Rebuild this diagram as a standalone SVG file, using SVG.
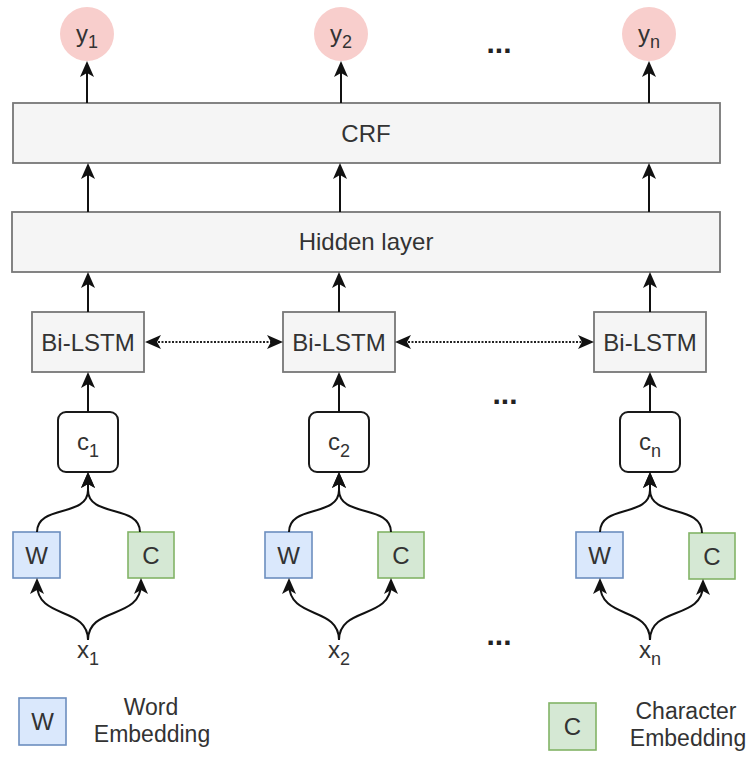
<svg xmlns="http://www.w3.org/2000/svg" width="750" height="757" viewBox="0 0 750 757">
  <style>
    text { font-family: "Liberation Sans", Arial, sans-serif; font-size: 24px; fill: #333; text-anchor: middle; }
    .sub { font-size: 18px; }
    .legend-text { font-size: 23px; }
    .layer { fill: #f5f5f5; stroke: #777; stroke-width: 1.8; }
    .cell { fill: #ffffff; stroke: #1a1a1a; stroke-width: 2; }
    .word { fill: #dae8fc; stroke: #6c8ebf; stroke-width: 1.6; }
    .char { fill: #d5e8d4; stroke: #82b366; stroke-width: 1.6; }
    .out { fill: #f8cecc; }
    .edge { fill: none; stroke: #111; stroke-width: 2; marker-end: url(#arrow); }
    .dotted { fill: none; stroke: #222; stroke-width: 2; stroke-dasharray: 2 1.5; marker-start: url(#arrow); marker-end: url(#arrow); }
    .dots { font-size: 30px; font-weight: bold; fill: #222; }
  </style>
  <defs>
    <marker id="arrow" markerUnits="userSpaceOnUse" markerWidth="16" markerHeight="14" viewBox="0 0 16 14" refX="10" refY="7" orient="auto-start-reverse">
      <path d="M0,0 L16,7 L0,14 L4,7 z" fill="#111"/>
    </marker>
  </defs>

  <!-- output labels -->
  <g id="y1"><circle class="out" cx="87" cy="34" r="27"/><text x="87" y="42">y<tspan class="sub" dy="6">1</tspan></text></g>
  <g id="y2"><circle class="out" cx="341" cy="34" r="27"/><text x="341" y="42">y<tspan class="sub" dy="6">2</tspan></text></g>
  <g id="yn"><circle class="out" cx="649" cy="34" r="27"/><text x="649" y="42">y<tspan class="sub" dy="6">n</tspan></text></g>
  <text class="dots" x="499" y="53">...</text>

  <!-- CRF and hidden layer -->
  <g id="crf"><rect class="layer" x="13" y="103" width="707" height="60"/><text x="366" y="142">CRF</text></g>
  <g id="hidden"><rect class="layer" x="12" y="212" width="708" height="60"/><text x="366" y="250">Hidden layer</text></g>

  <!-- Bi-LSTM cells -->
  <g id="lstm1"><rect class="layer" x="32" y="312" width="112" height="60"/><text x="88" y="351">Bi-LSTM</text></g>
  <g id="lstm2"><rect class="layer" x="283" y="312" width="112" height="60"/><text x="339" y="351">Bi-LSTM</text></g>
  <g id="lstmn"><rect class="layer" x="594" y="312" width="112" height="60"/><text x="650" y="351">Bi-LSTM</text></g>
  <text class="dots" x="505" y="404">...</text>

  <!-- concatenated embeddings -->
  <g id="c1"><rect class="cell" x="58" y="412" width="60" height="60" rx="8"/><text x="88" y="450">c<tspan class="sub" dy="7">1</tspan></text></g>
  <g id="c2"><rect class="cell" x="309" y="412" width="60" height="60" rx="8"/><text x="339" y="450">c<tspan class="sub" dy="7">2</tspan></text></g>
  <g id="cn"><rect class="cell" x="620" y="412" width="60" height="60" rx="8"/><text x="650" y="450">c<tspan class="sub" dy="7">n</tspan></text></g>

  <!-- word / character embeddings -->
  <g id="w1"><rect class="word" x="13" y="532" width="47" height="46"/><text x="36.5" y="564">W</text></g>
  <g id="ch1"><rect class="char" x="128" y="532" width="46" height="46"/><text x="151" y="564">C</text></g>
  <g id="w2"><rect class="word" x="265" y="532" width="47" height="46"/><text x="288.5" y="564">W</text></g>
  <g id="ch2"><rect class="char" x="378" y="532" width="46" height="46"/><text x="401" y="564">C</text></g>
  <g id="wn"><rect class="word" x="576" y="532" width="47" height="46"/><text x="599.5" y="564">W</text></g>
  <g id="chn"><rect class="char" x="689" y="533" width="46" height="46"/><text x="712" y="565">C</text></g>

  <!-- inputs -->
  <g id="x1"><text x="88" y="658">x<tspan class="sub" dy="7">1</tspan></text></g>
  <g id="x2"><text x="339" y="658">x<tspan class="sub" dy="7">2</tspan></text></g>
  <g id="xn"><text x="650" y="658">x<tspan class="sub" dy="7">n</tspan></text></g>
  <text class="dots" x="499" y="645">...</text>

  <!-- legend -->
  <g id="legend-word"><rect class="word" x="19" y="698" width="47" height="47"/><text x="42.5" y="730">W</text>
    <text class="legend-text" x="151" y="715">Word</text><text class="legend-text" x="152" y="742">Embedding</text></g>
  <g id="legend-char"><rect class="char" x="549" y="703" width="47" height="47"/><text x="572.5" y="735">C</text>
    <text class="legend-text" x="686" y="719">Character</text><text class="legend-text" x="688" y="746">Embedding</text></g>

  <!-- connectors -->
  <g id="connectors">
    <path class="edge" d="M87,103 V67"/>
    <path class="edge" d="M341,103 V67"/>
    <path class="edge" d="M649,103 V67"/>
    <path class="edge" d="M88,212 V169"/>
    <path class="edge" d="M340,212 V169"/>
    <path class="edge" d="M649,212 V169"/>
    <path class="edge" d="M88,312 V278"/>
    <path class="edge" d="M339,312 V278"/>
    <path class="edge" d="M650,312 V278"/>
    <path class="edge" d="M88,412 V378"/>
    <path class="edge" d="M339,412 V378"/>
    <path class="edge" d="M650,412 V378"/>
    <path class="dotted" d="M151,342 H277"/>
    <path class="dotted" d="M401,342 H588"/>
    <!-- W / C into c -->
    <path class="edge" d="M37,532 C37,504 88,518 88,490 V478"/>
    <path class="edge" d="M140,532 C140,504 88,518 88,490 V478"/>
    <path class="edge" d="M289,532 C289,504 339,518 339,490 V478"/>
    <path class="edge" d="M391,532 C391,504 339,518 339,490 V478"/>
    <path class="edge" d="M600,532 C600,504 650,518 650,490 V478"/>
    <path class="edge" d="M702,533 C702,504 650,518 650,490 V478"/>
    <!-- x into W / C -->
    <path class="edge" d="M88,640 C88,606 37,620 37,584"/>
    <path class="edge" d="M88,640 C88,606 141,620 141,584"/>
    <path class="edge" d="M339,640 C339,606 289,620 289,584"/>
    <path class="edge" d="M339,640 C339,606 391,620 391,584"/>
    <path class="edge" d="M650,640 C650,606 600,620 600,584"/>
    <path class="edge" d="M650,640 C650,606 703,620 703,585"/>
  </g>
</svg>
